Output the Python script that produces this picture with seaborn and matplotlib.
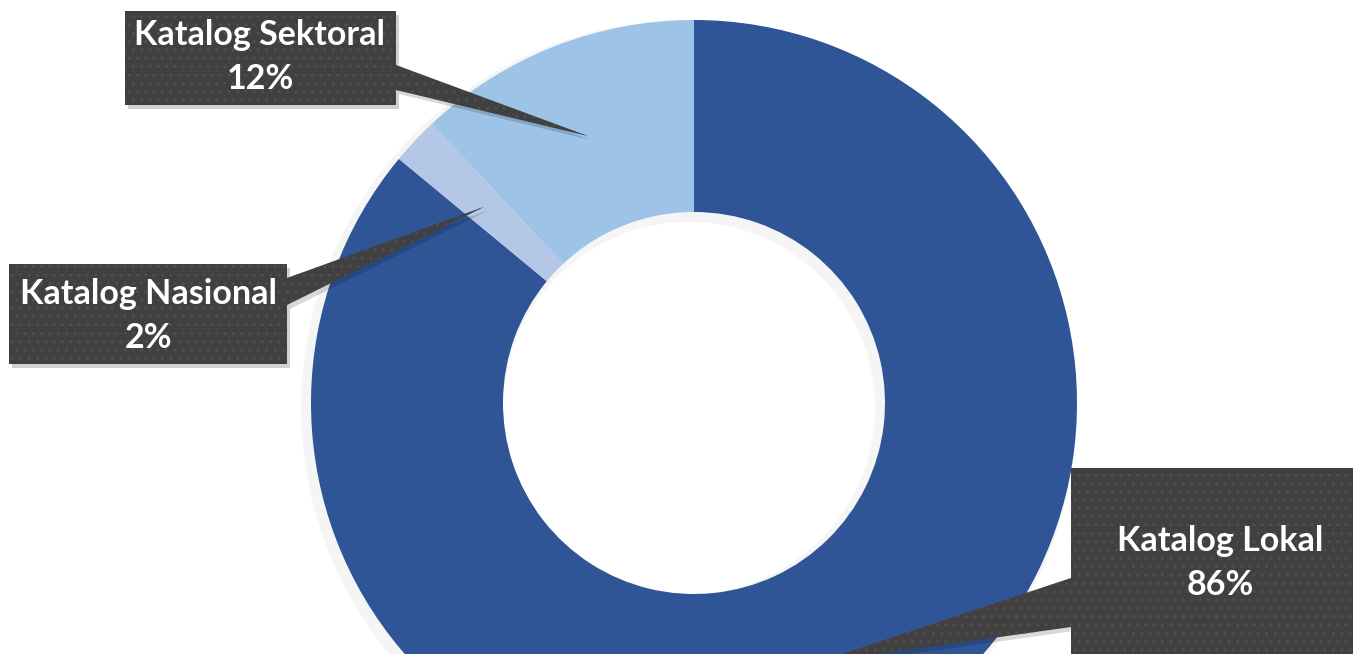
import numpy as np
import matplotlib.pyplot as plt
import seaborn as sns
from matplotlib.patches import Rectangle, Polygon

# data
labels = ['Katalog Lokal', 'Katalog Nasional', 'Katalog Sektoral']
shares = [86, 2, 12]
colors = ['#2F5597', '#B4C7E7', '#9DC3E6']

sns.set_theme(style="white")
plt.rcParams['font.family'] = ['Lato', 'DejaVu Sans']
palette = sns.color_palette(colors)

W, H = 1353, 654
fig = plt.figure(figsize=(W / 100, H / 100), dpi=100)
ax = fig.add_axes([0, 0, 1, 1])

cx, cy, R, ring = 694, 251, 383, 192

# soft shadow behind the ring
ax.pie([1], radius=R + 5, center=(cx - 5, cy - 5), colors=['#000000'],
       wedgeprops=dict(width=ring + 10, alpha=0.04, linewidth=0))
wedges, _ = ax.pie(shares, radius=R, center=(cx, cy), colors=palette,
                   startangle=90, counterclock=False,
                   wedgeprops=dict(width=ring, linewidth=0))

# callout boxes: (x0, y0, x1, y1), text center, pointer base on box edge
boxes = [
    dict(rect=(1071, -10, 1370, 186), text=(1220, 91), base=[(1071, 76), (1071, 27)]),
    dict(rect=(9, 290, 287, 390), text=(148, 338), base=[(287, 376), (287, 349)]),
    dict(rect=(125, 549, 396, 643), text=(260, 597), base=[(396, 589), (396, 564)]),
]

box_fc = '#404040'
for w, lab, val, b in zip(wedges, labels, shares, boxes):
    mid = np.deg2rad((w.theta1 + w.theta2) / 2)
    rr = R - ring / 2
    tip = (cx + rr * np.cos(mid), cy + rr * np.sin(mid))
    x0, y0, x1, y1 = b['rect']
    poly = [b['base'][0], tip, b['base'][1]]
    # shadows
    ax.add_patch(Rectangle((x0 + 3, y0 - 4), x1 - x0, y1 - y0, fc='#000000',
                           alpha=0.18, lw=0, zorder=3))
    ax.add_patch(Polygon([(p[0] + 3, p[1] - 4) for p in poly], closed=True,
                         fc='#000000', alpha=0.15, lw=0, zorder=3))
    ax.add_patch(Rectangle((x0, y0), x1 - x0, y1 - y0, fc=box_fc,
                           ec='#4e4e4e', lw=0, hatch='..', zorder=4))
    ax.add_patch(Polygon(poly, closed=True, fc=box_fc, ec='#4e4e4e', lw=0,
                         hatch='..', zorder=4))
    ax.text(b['text'][0], b['text'][1], f"{lab}\n{val}%", ha='center', va='center',
            multialignment='center', color='white', fontsize=24.5,
            fontweight='bold', linespacing=1.45, zorder=5)

ax.set_xlim(0, W)
ax.set_ylim(0, H)
ax.set_aspect('auto')
ax.axis('off')

fig.savefig('out.png', dpi=100, facecolor='white')
